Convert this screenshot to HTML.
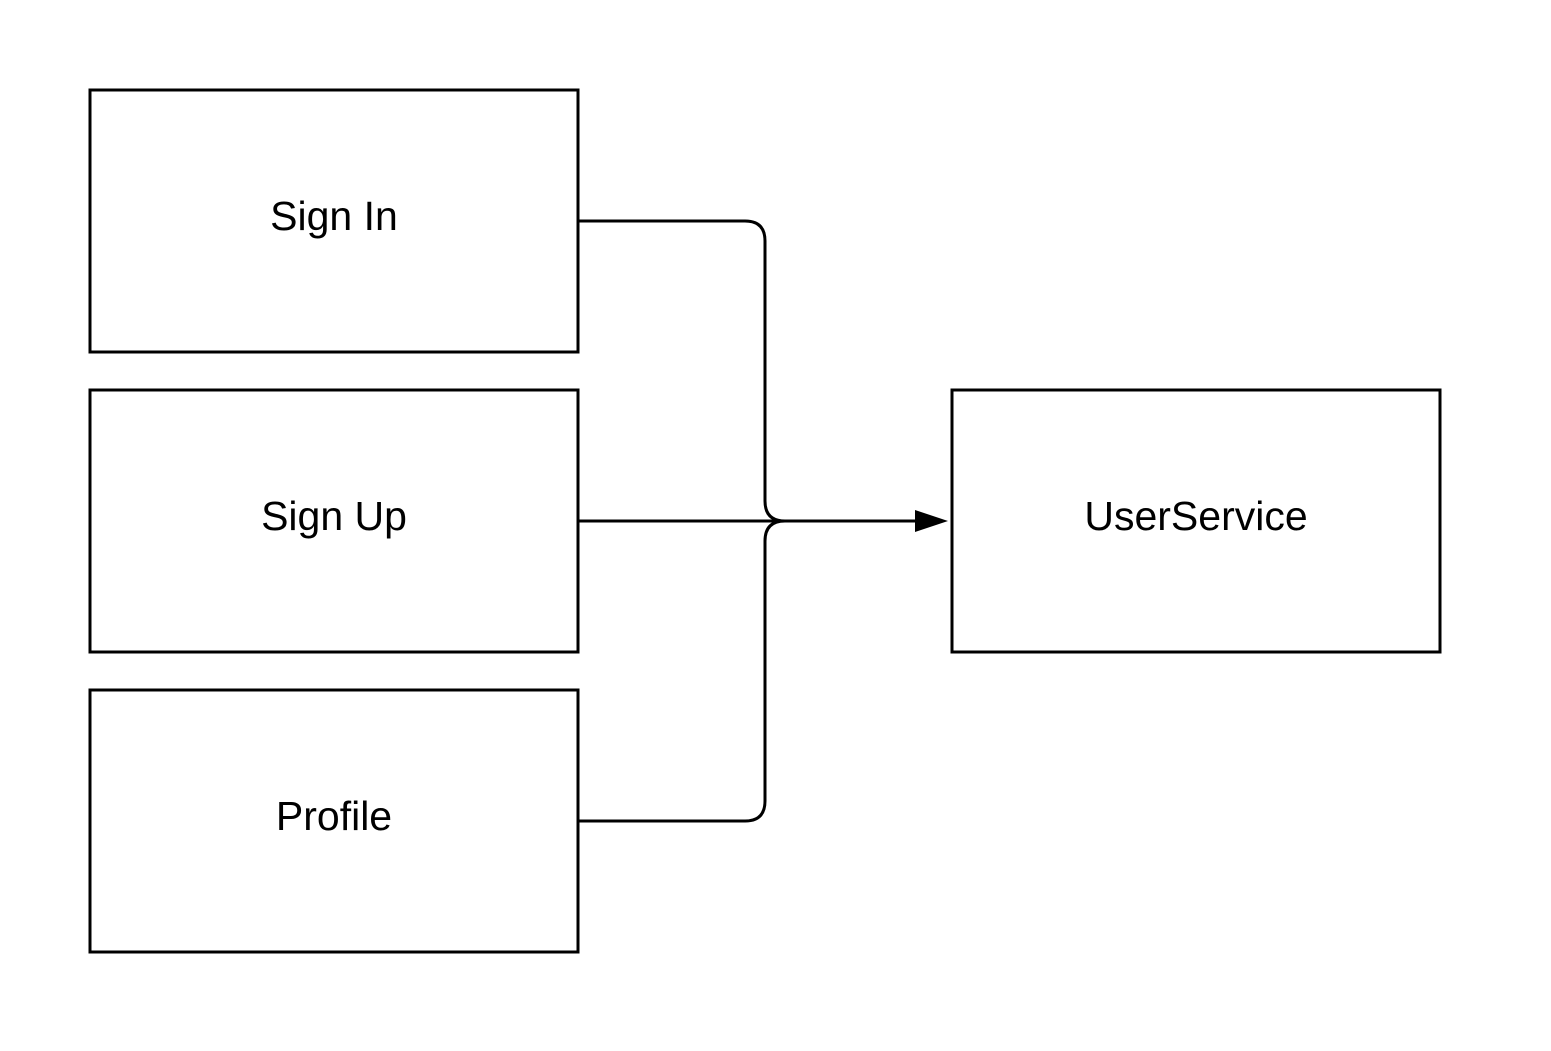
<!DOCTYPE html>
<html><head><style>
html,body{margin:0;padding:0;background:#fff;}
</style></head><body>
<svg width="1551" height="1046" viewBox="0 0 1551 1046" xmlns="http://www.w3.org/2000/svg">
<rect width="1551" height="1046" fill="#fff"/>
<g fill="none" stroke="#000" stroke-width="3">
<rect x="90" y="90" width="488" height="262"/>
<rect x="90" y="390" width="488" height="262"/>
<rect x="90" y="690" width="488" height="262"/>
<rect x="952" y="390" width="488" height="262"/>
<path d="M578 221 H745 Q765 221 765 241 V501 Q765 521 785 521"/>
<path d="M578 821 H745 Q765 821 765 801 V541 Q765 521 785 521"/>
<path d="M578 521 H920"/>
</g>
<polygon points="915,510 948,521 915,532" fill="#000"/>
<g font-family="Liberation Sans, sans-serif" font-size="41" text-anchor="middle" fill="#000">
<text x="334" y="230">Sign In</text>
<text x="334" y="530">Sign Up</text>
<text x="334" y="830">Profile</text>
<text x="1196" y="530">UserService</text>
</g>
</svg>
</body></html>
